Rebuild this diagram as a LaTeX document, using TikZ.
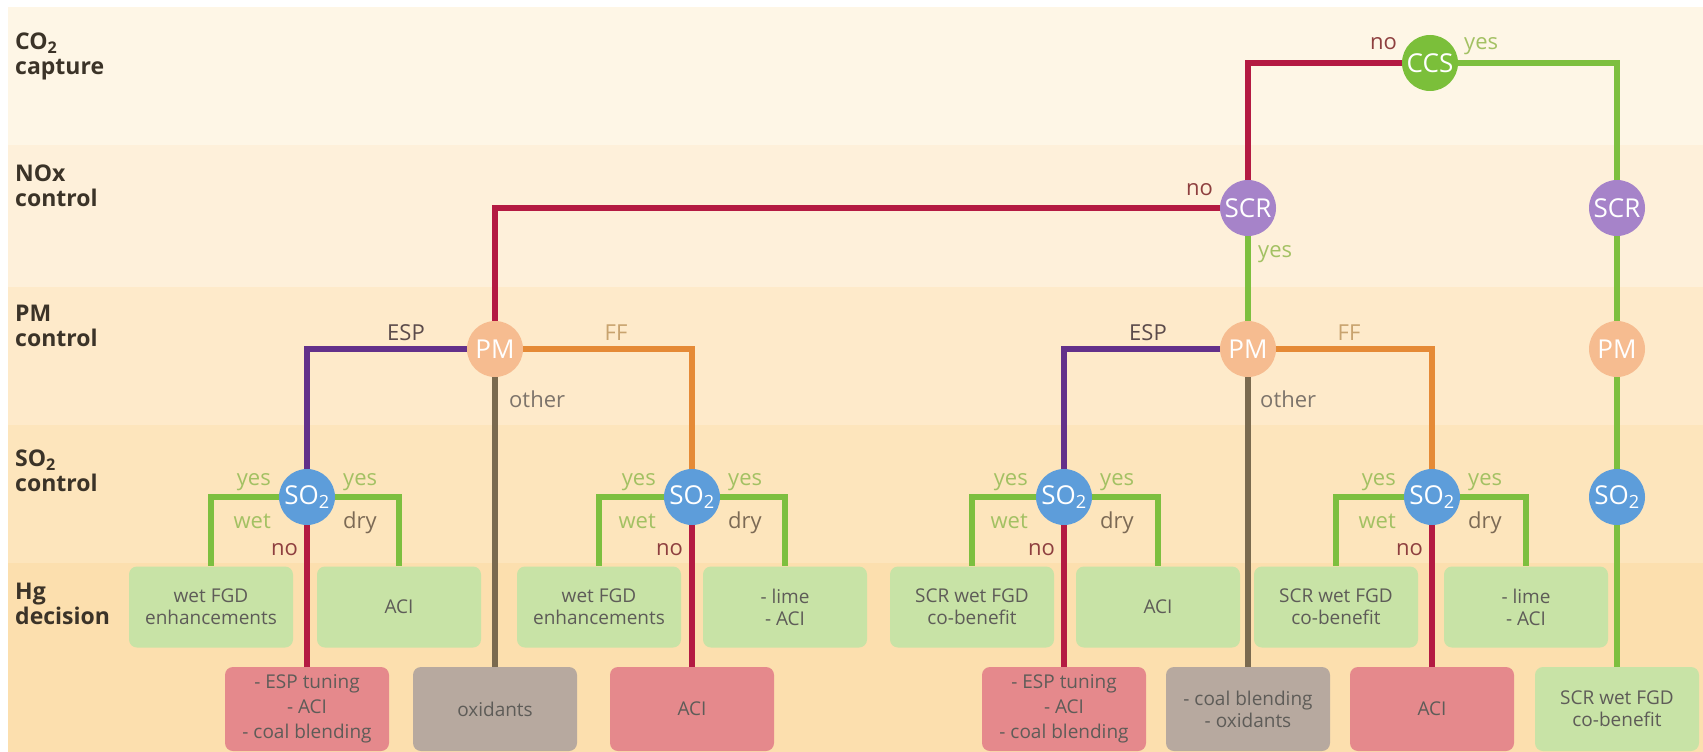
\documentclass[tikz,border=0pt]{standalone}
\usepackage{fontspec}
\setmainfont{Open Sans}
\definecolor{bandA}{HTML}{FEF6E6}
\definecolor{bandB}{HTML}{FEF0DA}
\definecolor{bandC}{HTML}{FEEACA}
\definecolor{bandD}{HTML}{FDE5BC}
\definecolor{bandE}{HTML}{FCDFAE}
\definecolor{lnred}{HTML}{B41A42}
\definecolor{lnpur}{HTML}{63308A}
\definecolor{lnorg}{HTML}{E58A36}
\definecolor{lnbrn}{HTML}{7A6A4F}
\definecolor{lngrn}{HTML}{7DBF3F}
\definecolor{ccsfill}{HTML}{7BBF3A}
\definecolor{scrfill}{HTML}{A683C9}
\definecolor{pmfill}{HTML}{F6BC90}
\definecolor{sofill}{HTML}{5D9DDA}
\definecolor{gboxfill}{HTML}{C8E3A6}
\definecolor{rboxfill}{HTML}{E5898C}
\definecolor{yboxfill}{HTML}{B7A99F}
\definecolor{boxtxt}{HTML}{5E5C58}
\definecolor{rowtxt}{HTML}{3B3328}
\definecolor{yestxt}{HTML}{A3C163}
\definecolor{drytxt}{HTML}{7C6A55}
\definecolor{notxt}{HTML}{8E3F3F}
\definecolor{esptxt}{HTML}{5B4B4B}
\definecolor{fftxt}{HTML}{C8A36E}
\definecolor{othtxt}{HTML}{7D746B}
\pgfdeclarelayer{bands}
\pgfdeclarelayer{edges}
\pgfsetlayers{bands,edges,main}
\begin{document}
\begin{tikzpicture}[x=1pt,y=-1pt,
  circ/.style={circle, minimum size=56pt, inner sep=0pt, text=white, font=\fontsize{26}{26}\selectfont},
  ccsn/.style={circ, fill=ccsfill},
  scrn/.style={circ, fill=scrfill},
  pmn/.style={circ, fill=pmfill},
  son/.style={circ, fill=sofill},
  hgbox/.style={rounded corners=8pt, minimum width=164pt, minimum height=81pt, inner sep=0pt, align=center, text=boxtxt, font=\fontsize{19}{22}\selectfont},
  gbox/.style={hgbox, fill=gboxfill},
  rbox/.style={hgbox, fill=rboxfill, minimum height=84pt},
  ybox/.style={hgbox, fill=yboxfill, minimum height=84pt},
  rowlbl/.style={anchor=north west, inner sep=0pt, align=left, text=rowtxt, font=\bfseries\fontsize{23}{25}\selectfont},
  lbl/.style={inner sep=0pt, font=\fontsize{22}{22}\selectfont},
  lnbase/.style={line width=5.5pt},
  redl/.style={lnbase, draw=lnred},
  purl/.style={lnbase, draw=lnpur},
  orgl/.style={lnbase, draw=lnorg},
  brnl/.style={lnbase, draw=lnbrn},
  grnl/.style={lnbase, draw=lngrn}]
\useasboundingbox (0,0) rectangle (1703,752);
\begin{pgfonlayer}{bands}
\fill[white] (0,0) rectangle (1703,752);
\fill[bandA] (8,7) rectangle (1703,145);
\fill[bandB] (8,145) rectangle (1703,287);
\fill[bandC] (8,287) rectangle (1703,425);
\fill[bandD] (8,425) rectangle (1703,563);
\fill[bandE] (8,563) rectangle (1703,752);
\end{pgfonlayer}
% row labels
\node[rowlbl] (rco) at (15,33) {CO\textsubscript{2}\\capture};
\node[rowlbl] (rno) at (15,165) {NOx\\control};
\node[rowlbl] (rpm) at (15,305) {PM\\control};
\node[rowlbl] (rso) at (15,450) {SO\textsubscript{2}\\control};
\node[rowlbl] (rhg) at (15,583) {Hg\\decision};
% decision nodes
\node[ccsn] (ccs) at (1430,63) {CCS};
\node[scrn] (scrL) at (1248,208) {SCR};
\node[scrn] (scrR) at (1617,208) {SCR};
\node[pmn] (pmL) at (495,349) {PM};
\node[pmn] (pmM) at (1248,349) {PM};
\node[pmn] (pmR) at (1617,349) {PM};
\node[son] (so2R) at (1617,497) {SO\textsubscript{2}};
\foreach \n/\x in {A/307,B/692,C/1064,D/1432} {
  \node[son] (so2\n) at (\x,497) {SO\textsubscript{2}};
  \node[lbl, text=yestxt, anchor=base east] (yl\n) at (\x-36,485) {yes};
  \node[lbl, text=yestxt, anchor=base west] (yr\n) at (\x+36,485) {yes};
  \node[lbl, text=yestxt, anchor=base east] (wt\n) at (\x-36,528) {wet};
  \node[lbl, text=drytxt, anchor=base west] (dr\n) at (\x+36,528) {dry};
  \node[lbl, text=notxt, anchor=base east] (no\n) at (\x-9,555) {no};
}
% Hg boxes, top row
\node[gbox] (LA) at (211,607) {wet FGD\\enhancements};
\node[gbox] (RA) at (399,607) {ACI};
\node[gbox] (LB) at (599,607) {wet FGD\\enhancements};
\node[gbox] (RB) at (785,607) {- lime\\- ACI};
\node[gbox] (LC) at (972,607) {SCR wet FGD\\co-benefit};
\node[gbox] (RC) at (1158,607) {ACI};
\node[gbox] (LD) at (1336,607) {SCR wet FGD\\co-benefit};
\node[gbox] (RD) at (1526,607) {- lime\\- ACI};
% Hg boxes, bottom row
\node[rbox, font=\fontsize{19}{25}\selectfont] (NA) at (307,709) {- ESP tuning\\- ACI\\- coal blending};
\node[ybox] (grayA) at (495,709) {oxidants};
\node[rbox] (NB) at (692,709) {ACI};
\node[rbox, font=\fontsize{19}{25}\selectfont] (NC) at (1064,709) {- ESP tuning\\- ACI\\- coal blending};
\node[ybox] (grayM) at (1248,709) {- coal blending\\- oxidants};
\node[rbox] (ND) at (1432,709) {ACI};
\node[gbox, minimum height=84pt] (boxR) at (1617,709) {SCR wet FGD\\co-benefit};
% branch labels
\node[lbl, text=notxt, anchor=base east] (lccsno) at (1397,50) {no};
\node[lbl, text=yestxt, anchor=base west] (lccsyes) at (1464,50) {yes};
\node[lbl, text=notxt, anchor=base east] (lscrno) at (1213,195) {no};
\node[lbl, text=yestxt, anchor=base west] (lscryes) at (1258,257) {yes};
\node[lbl, text=esptxt, anchor=base] (lespL) at (406,340) {ESP};
\node[lbl, text=fftxt, anchor=base] (lffL) at (616,340) {FF};
\node[lbl, text=othtxt, anchor=base west] (lothL) at (509,407) {other};
\node[lbl, text=esptxt, anchor=base] (lespM) at (1148,340) {ESP};
\node[lbl, text=fftxt, anchor=base] (lffM) at (1349,340) {FF};
\node[lbl, text=othtxt, anchor=base west] (lothM) at (1260,407) {other};
% connectors
\begin{pgfonlayer}{edges}
\draw[redl] (ccs) -| (scrL);
\draw[grnl] (ccs) -| (scrR);
\draw[grnl] (scrR) -- (pmR);
\draw[grnl] (pmR) -- (so2R);
\draw[grnl] (so2R) -- (boxR);
\draw[redl] (scrL) -| (pmL);
\draw[grnl] (scrL) -- (pmM);
\draw[purl] (pmL) -| (so2A);
\draw[orgl] (pmL) -| (so2B);
\draw[brnl] (pmL) -- (grayA);
\draw[purl] (pmM) -| (so2C);
\draw[orgl] (pmM) -| (so2D);
\draw[brnl] (pmM) -- (grayM);
\foreach \n in {A,B,C,D} {
  \draw[grnl] (so2\n) -| (L\n);
  \draw[grnl] (so2\n) -| (R\n);
  \draw[redl] (so2\n) -- (N\n);
}
\end{pgfonlayer}
\end{tikzpicture}
\end{document}
